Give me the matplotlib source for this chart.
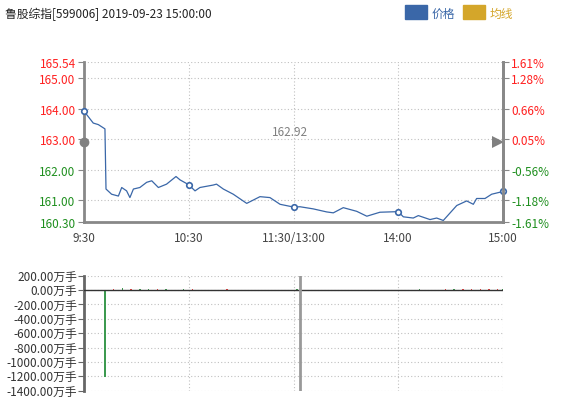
import matplotlib

matplotlib.use("Agg")

import matplotlib.pyplot as plt
from matplotlib.patches import Rectangle

plt.rcParams["font.family"] = ["Noto Sans CJK SC", "DejaVu Sans"]

# 分钟数（相对 9:30 的交易分钟）与价格
minutes = [0, 5.3, 8.2, 12, 12.6, 15.8, 19.7, 21.6, 24.4, 26.3, 28.3, 32, 35.9, 38.8,
           42.6, 47.3, 52.7, 55, 60, 63.6, 66.4, 74, 75.9, 79.8, 85.5, 93.2, 100.8,
           106.5, 112.3, 120, 123.7, 131.3, 139, 142.8, 148.5, 156.2, 162, 169.5, 180,
           182.9, 188.6, 191.5, 198.2, 202, 205.8, 213.5, 219.2, 223, 224.9, 229.7,
           233.5, 240]
prices = [163.92, 163.53, 163.48, 163.34, 161.37, 161.20, 161.14, 161.42, 161.31, 161.09,
          161.37, 161.42, 161.59, 161.64, 161.42, 161.53, 161.78, 161.67, 161.51, 161.31,
          161.42, 161.50, 161.53, 161.37, 161.20, 160.90, 161.12, 161.09, 160.87, 160.78,
          160.79, 160.72, 160.62, 160.59, 160.76, 160.64, 160.48, 160.61, 160.63, 160.46,
          160.42, 160.50, 160.37, 160.42, 160.34, 160.83, 160.98, 160.87, 161.06, 161.06,
          161.20, 161.29]
marker_minutes = [0, 60, 120, 180, 240]
prev_close = 162.92

price_ticks = [160.30, 161.00, 162.00, 163.00, 164.00, 165.00, 165.54]
pct_labels = ["-1.61%", "-1.18%", "-0.56%", "0.05%", "0.66%", "1.28%", "1.61%"]
time_ticks = [0, 60, 120, 180, 240]
time_labels = ["9:30", "10:30", "11:30/13:00", "14:00", "15:00"]

# 成交量柱（万手）
vol_minutes = [12, 17, 22, 27, 32, 37, 42, 47, 52, 57, 62, 67, 72, 77, 82, 87, 92, 97,
               102, 107, 112, 117, 122, 127, 132, 137, 142, 147, 152, 157, 162, 167, 172,
               177, 182, 187, 192, 197, 202, 207, 212, 217, 222, 227, 232, 237, 240]
vol_values = [-1205, 18, 22, 20, 16, 12, 10, 9, 8, 10, 9, 8, 7, 8, 9, 8, 7, 6, 7, 8, 7,
              6, 9, 7, 6, 7, 8, 6, 7, 8, 7, 6, 8, 7, 6, 8, 9, 8, 7, 9, 10, 9, 12, 11, 12,
              14, 20]
vol_up = [False, True, False, True, False, False, True, False, True, False, True, False,
          True, False, True, True, False, True, True, False, True, True, False, True,
          True, False, True, False, True, True, False, True, True, True, False, True,
          False, True, True, True, False, True, True, True, True, True, False]
vol_ticks = [200, 0, -200, -400, -600, -800, -1000, -1200, -1400]

BLUE = "#3a67a8"
GOLD = "#d4a62a"
RED = "#ff2020"
GREEN = "#1f8f1f"
BAR_RED = "#e84040"
BAR_GREEN = "#3d9a50"
AXIS = "#888888"
GRID = "#c0c0c0"

fig = plt.figure(figsize=(5.65, 4.14), dpi=100)
fig.patch.set_facecolor("white")

# 标题与图例
fig.text(5 / 565, 1 - 14 / 414, "鲁股综指[599006] 2019-09-23 15:00:00", fontsize=8.5,
         color="#222222", va="center", ha="left")
fig.add_artist(Rectangle((405 / 565, 1 - 20 / 414), 22 / 565, 14 / 414,
                         transform=fig.transFigure, color=BLUE))
fig.text(432 / 565, 1 - 14 / 414, "价格", fontsize=8.5, color=BLUE, va="center")
fig.add_artist(Rectangle((463 / 565, 1 - 20 / 414), 22 / 565, 14 / 414,
                         transform=fig.transFigure, color=GOLD))
fig.text(490 / 565, 1 - 14 / 414, "均线", fontsize=8.5, color=GOLD, va="center")

# 分时价格
ax = fig.add_axes([84 / 565, 191.3 / 414, 419 / 565, 160 / 414])
ax.set_xlim(0, 240)
ax.set_ylim(price_ticks[0], price_ticks[-1])
ax.plot(minutes, prices, color=BLUE, lw=0.9)
marker_prices = [prices[min(range(len(minutes)), key=lambda i: abs(minutes[i] - m))]
                 for m in marker_minutes]
ax.plot(marker_minutes, marker_prices, "o", ms=4, mfc="white", mec=BLUE, mew=1.2,
        clip_on=False, zorder=5)
ax.plot([0], [prev_close], "o", ms=6, color="#808080", clip_on=False, zorder=6)
ax.plot([237.3], [prev_close], marker=">", ms=9, color="#808080", clip_on=False, zorder=6,
        markeredgewidth=0)
ax.text(118, 163.27, f"{prev_close:.2f}", color="#808080", fontsize=8.5, ha="center",
        va="center")

ax.set_yticks(price_ticks)
ax.set_yticklabels([f"{v:.2f}" for v in price_ticks], fontsize=8.5)
for label, v in zip(ax.get_yticklabels(), price_ticks):
    label.set_color(RED if v >= prev_close else GREEN)
ax.set_xticks(time_ticks)
ax.set_xticklabels(time_labels, fontsize=8.5, color="#444444")
ax.grid(True, ls=(0, (1, 2)), color=GRID, lw=0.8)
ax.tick_params(axis="y", length=4, color=AXIS, pad=2)
ax.tick_params(axis="x", length=0, pad=7)
for side in ["left", "right", "bottom"]:
    ax.spines[side].set_color(AXIS)
    ax.spines[side].set_linewidth(2)
ax.spines["top"].set_visible(False)

ax2 = ax.twinx()
ax2.set_ylim(ax.get_ylim())
ax2.set_yticks(price_ticks)
ax2.set_yticklabels(pct_labels, fontsize=8.5)
for label, v in zip(ax2.get_yticklabels(), price_ticks):
    label.set_color(RED if v >= prev_close else GREEN)
ax2.tick_params(axis="y", length=4, color=AXIS, pad=2)
for side in ["left", "top", "bottom"]:
    ax2.spines[side].set_visible(False)
ax2.spines["right"].set_color(AXIS)
ax2.spines["right"].set_linewidth(2)

# 成交量
bx = fig.add_axes([84 / 565, 22.3 / 414, 419 / 565, 115 / 414])
bx.set_xlim(0, 240)
bx.set_ylim(-1400, 200)
bx.bar(vol_minutes, vol_values, width=0.8,
       color=[BAR_RED if u else BAR_GREEN for u in vol_up], zorder=3)
bx.axhline(0, color="#333333", lw=1, zorder=4)
bx.axvline(124, ymin=0, ymax=1, color="#999999", lw=2, zorder=4)
bx.set_yticks(vol_ticks)
bx.set_yticklabels([f"{v:.2f}万手" for v in vol_ticks], fontsize=8.5, color="#333333")
bx.set_xticks(time_ticks)
bx.set_xticklabels([])
bx.grid(True, ls=(0, (1, 2)), color=GRID, lw=0.8)
bx.tick_params(axis="y", length=4, color="#666666", pad=1)
bx.tick_params(axis="x", length=0)
for side in ["top", "right", "bottom"]:
    bx.spines[side].set_visible(False)
bx.spines["left"].set_color("#666666")
bx.spines["left"].set_linewidth(2)

fig.savefig("out.png", dpi=100)
